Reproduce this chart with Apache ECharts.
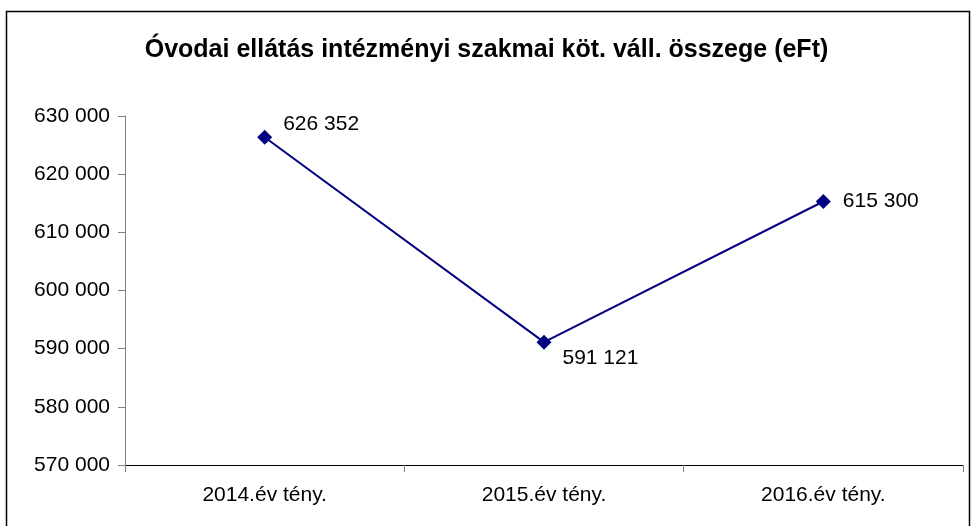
<!DOCTYPE html>
<html>
<head>
<meta charset="utf-8">
<script src="https://cdn.jsdelivr.net/npm/echarts@6/dist/echarts.min.js"></script>
<style>
  html, body { margin: 0; padding: 0; background: #fff; }
  #chart { width: 973px; height: 526px; }
</style>
</head>
<body>
<div id="chart"></div>
<script>
// chart data
var categories = ["2014.év tény.", "2015.év tény.", "2016.év tény."];
var values = [626352, 591121, 615300];
// label offsets per point (dx, dy) as in the original
var labelOffsets = [[3, -13], [3, 16], [4, 0]];

var fmt = function (v) {
  return String(Math.round(v)).replace(/\B(?=(\d{3})+(?!\d))/g, " ");
};

var chart = echarts.init(document.getElementById("chart"));
chart.setOption({
  animation: false,
  textStyle: { fontFamily: "Liberation Sans, Arial, sans-serif" },
  title: {
    text: "Óvodai ellátás intézményi szakmai köt. váll. összege (eFt)",
    left: "center",
    top: 33,
    textStyle: {
      fontSize: 25,
      fontWeight: "bold",
      color: "#000",
      fontFamily: "Liberation Sans, Arial, sans-serif"
    }
  },
  graphic: [
    {
      type: "rect",
      shape: { x: 6.5, y: 11.5, width: 963, height: 530 },
      style: { fill: "none", stroke: "#000", lineWidth: 1.5 },
      silent: true
    }
  ],
  grid: { left: 125, right: 10, top: 116, bottom: 61 },
  xAxis: {
    type: "category",
    data: categories,
    boundaryGap: true,
    axisLine: { lineStyle: { color: "#000", width: 1 } },
    axisTick: { show: true, length: 7, lineStyle: { color: "#808080" } },
    axisLabel: { fontSize: 21, color: "#000", margin: 20 },
    splitLine: { show: false }
  },
  yAxis: {
    type: "value",
    min: 570000,
    max: 630000,
    interval: 10000,
    axisLine: { show: true, lineStyle: { color: "#808080", width: 1 } },
    axisTick: { show: true, length: 7, lineStyle: { color: "#808080" } },
    axisLabel: { fontSize: 21, color: "#000", margin: 15, formatter: fmt },
    splitLine: { show: false }
  },
  series: [
    {
      type: "line",
      data: values.map(function (v, i) {
        return {
          value: v,
          label: { offset: labelOffsets[i] }
        };
      }),
      symbol: "diamond",
      symbolSize: 15,
      lineStyle: { color: "#000080", width: 2 },
      itemStyle: { color: "#000080" },
      label: {
        show: true,
        position: "right",
        distance: 8,
        fontSize: 21,
        color: "#000",
        formatter: function (p) { return fmt(p.value); }
      }
    }
  ]
});
</script>
</body>
</html>
